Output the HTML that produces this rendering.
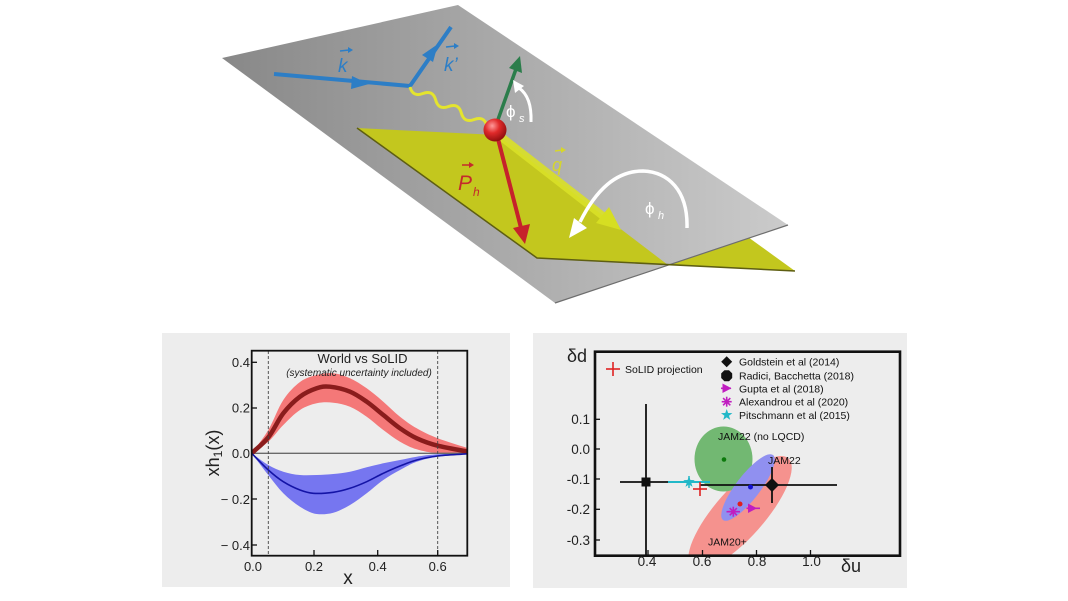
<!DOCTYPE html>
<html><head><meta charset="utf-8"><style>
html,body{margin:0;padding:0;background:#fff;}
svg{display:block;}
text{font-family:"Liberation Sans",Arial,sans-serif;}
</style></head><body>
<svg width="1068" height="601" viewBox="0 0 1068 601" xmlns="http://www.w3.org/2000/svg">
<defs>
<linearGradient id="gg" x1="222" y1="0" x2="788" y2="0" gradientUnits="userSpaceOnUse">
<stop offset="0" stop-color="#888888"/><stop offset="0.5" stop-color="#aaaaaa"/><stop offset="1" stop-color="#cbcbcb"/>
</linearGradient>
<radialGradient id="ball" cx="0.38" cy="0.32" r="0.7">
<stop offset="0" stop-color="#ff9a9a"/><stop offset="0.45" stop-color="#e02a2a"/><stop offset="1" stop-color="#8e0e0e"/>
</radialGradient>
<clipPath id="lc"><rect x="252" y="351" width="215.5" height="205"/></clipPath>
<clipPath id="rc"><rect x="595" y="352" width="305" height="204"/></clipPath>
</defs>

<!-- ===== 3D illustration ===== -->
<polygon points="357,128 615,141 795,271 537,258" fill="#c3c71e"/>
<polygon points="222,58 458,5 788,225 555,303" fill="url(#gg)"/>
<line x1="555" y1="303" x2="788" y2="225" stroke="#6e6e6e" stroke-width="1.2"/>
<polygon points="357,128 497,135 668,265 537,258" fill="#c3c71e"/>
<polyline points="357,128 537,258 795,271" fill="none" stroke="#5e5e12" stroke-width="1.5"/>

<!-- q band -->
<line x1="500" y1="136" x2="603" y2="216" stroke="#d9e027" stroke-width="8" stroke-opacity="0.9"/>
<polygon points="621,230 596,223 609,207" fill="#d6de22"/>

<!-- blue lepton lines -->
<polyline points="274,74 410,86 451,27" fill="none" stroke="#2d7ec6" stroke-width="4" stroke-linejoin="miter"/>
<polygon points="369,84 352,76 351,89" fill="#2d7ec6"/>
<polygon points="438,44 433,62 422,55" fill="#2d7ec6"/>

<!-- photon wave -->
<path d="M410,87 Q412.8,97.4 422.83,93.5 Q432.87,89.61 435.67,100 Q438.46,110.39 448.5,106.5 Q458.54,102.61 461.33,113 Q464.13,123.39 474.17,119.5 Q484.2,115.61 487,126" fill="none" stroke="#e4e42e" stroke-width="3"/>

<!-- green spin arrow -->
<line x1="495" y1="128" x2="516" y2="69" stroke="#2b7d4b" stroke-width="3.5"/>
<polygon points="520,56 522,73 509,68" fill="#2b7d4b"/>

<!-- red hadron arrow -->
<line x1="497" y1="135" x2="521" y2="228" stroke="#c6222b" stroke-width="4"/>
<polygon points="525,244 513,228 530,224" fill="#c6222b"/>

<!-- ball -->
<circle cx="495" cy="130" r="11.5" fill="url(#ball)"/>

<!-- phi_s arc -->
<path d="M531,122 Q532,97 519,88" fill="none" stroke="#fff" stroke-width="3"/>
<polygon points="513,80 524,86 515,93" fill="#fff"/>
<text x="506" y="117" font-size="17" fill="#fff" font-family="DejaVu Sans,Liberation Sans,sans-serif">ϕ</text>
<text x="519" y="122" font-size="11" fill="#fff" font-style="italic">s</text>

<!-- phi_h arc -->
<path d="M687,228 C688,190 668,172 643,171 C616,171 596,190 580,222" fill="none" stroke="#fff" stroke-width="3.5"/>
<polygon points="569,238 574,218 587,228" fill="#fff"/>
<text x="645" y="214" font-size="17" fill="#fff" font-family="DejaVu Sans,Liberation Sans,sans-serif">ϕ</text>
<text x="658" y="219" font-size="11" fill="#fff" font-style="italic">h</text>

<!-- labels -->
<text x="338" y="72" font-size="19" fill="#2d7ec6" font-style="italic">k</text>
<line x1="340" y1="51" x2="349" y2="50" stroke="#2d7ec6" stroke-width="1.5"/><polygon points="353,50 348,47 348,53" fill="#2d7ec6"/>
<text x="444" y="71" font-size="19" fill="#2d7ec6" font-style="italic">k’</text>
<line x1="446" y1="47" x2="455" y2="46" stroke="#2d7ec6" stroke-width="1.5"/><polygon points="459,46 454,43 454,49" fill="#2d7ec6"/>
<text x="458" y="190" font-size="21" fill="#c42a2c" font-style="italic">P</text>
<text x="473" y="196" font-size="12" fill="#c42a2c" font-style="italic">h</text>
<line x1="462" y1="165" x2="470" y2="165" stroke="#c42a2c" stroke-width="1.5"/><polygon points="474,165 469,162 469,168" fill="#c42a2c"/>
<text x="552" y="171" font-size="18" fill="#d6d62c" font-style="italic">q</text>
<line x1="555" y1="151" x2="562" y2="150" stroke="#d6d62c" stroke-width="1.5"/><polygon points="566,150 561,147 561,153" fill="#d6d62c"/>

<!-- ===== Left panel ===== -->
<rect x="162" y="333" width="348" height="254" fill="#ededed"/>
<g clip-path="url(#lc)">
<path fill="#f47878" d="M251.7,453.3 C257.2,445.5 263,438.9 268.3,430 S278,408 283.3,400 S294.4,386.2 300,382 S311.2,376.5 316.7,375 S327.8,372.8 333.3,373.3 S344.4,375.8 350,378.3 S361.2,384.4 366.7,388.3 S377.8,397 383.3,401.7 S394.4,412.3 400,416.7 S410.4,424.7 416.7,428.3 S429.1,435 437.7,438.3 S458.1,445 468.3,448.3 L468.3,453.3 C458.1,453.3 446.3,454 437.7,453.3 S423,451.2 416.7,449.3 S405.6,444.9 400,441.7 S388.9,434.2 383.3,430 S372.3,420.6 366.7,416.7 S355.6,409 350,406.7 S338.9,403.3 333.3,402.7 S322.3,402.1 316.7,403.3 S305.6,406.4 300,410 S288.6,419.7 283.3,425 S273.6,437 268.3,441.7 S257.2,449.4 251.7,453.3 Z"/>
<path fill="#7676f0" d="M251.7,453.3 C257.2,457.2 263,461.9 268.3,465 S278,470 283.3,471.7 S294.4,474.5 300,475 S311.2,475.2 316.7,475 S327.8,474.6 333.3,474 S344.4,472.8 350,471.7 S361.2,468.7 366.7,467.3 S377.8,464.5 383.3,463.3 S394.4,461.1 400,460 S410.4,457.7 416.7,456.7 S429.1,454.9 437.7,454.3 S458.1,453.6 468.3,453.3 L468.3,453.7 C458.1,454.7 446.3,455.4 437.7,456.7 S423,459.5 416.7,461.7 S405.6,467 400,470 S388.9,476.1 383.3,480 S372.3,489.1 366.7,493.3 S355.6,501.8 350,505 S338.9,511.2 333.3,512.7 S322.3,514.6 316.7,514 S305.6,510.2 300,506.7 S288.6,498.6 283.3,493.3 S273.6,481.7 268.3,475 S257.2,460.5 251.7,453.3 Z"/>
<line x1="252" y1="453.3" x2="468" y2="453.3" stroke="#6a6a6a" stroke-width="1.3"/>
<path fill="none" stroke="#8a1c1c" stroke-width="4.5" stroke-linecap="round" d="M251.7,453.3 C257.2,448 263,444 268.3,437.3 S278,420.1 283.3,413.3 S294.4,400.9 300,396.7 S311.7,390 316.7,388.3 S324.5,386.1 330,386.7 S343.9,389.2 350,391.7 S361.1,397.8 366.7,401.7 S377.8,410.6 383.3,415 S394.4,424.4 400,428.3 S410.4,435.4 416.7,438.3 S429.1,443.5 437.7,445.7 S458.1,449.7 468.3,451.7"/>
<path fill="none" stroke="#1414a6" stroke-width="1.6" d="M251.7,453.3 C257.2,458.9 263,465.3 268.3,470 S278,478.4 283.3,481.7 S295,488.1 300,490 S307.8,492.9 313.3,493.3 S327.2,493.1 333.3,492.3 S344.4,490.1 350,488.3 S361.2,484.2 366.7,481.7 S377.8,475.9 383.3,473.3 S394.4,468.2 400,466 S410.4,461.7 416.7,460 S429.1,457.1 437.7,456 S458.1,454.5 468.3,453.7"/>
</g>
<line x1="268.3" y1="351" x2="268.3" y2="556" stroke="#444" stroke-width="0.9" stroke-dasharray="3,2"/>
<line x1="437.7" y1="351" x2="437.7" y2="556" stroke="#444" stroke-width="0.9" stroke-dasharray="3,2"/>
<rect x="251.7" y="350.7" width="215.6" height="205" fill="none" stroke="#111" stroke-width="1.8"/>
<g stroke="#111" stroke-width="1.3">
<line x1="251.7" y1="362.3" x2="257" y2="362.3"/><line x1="251.7" y1="408" x2="257" y2="408"/>
<line x1="251.7" y1="499" x2="257" y2="499"/><line x1="251.7" y1="545" x2="257" y2="545"/>
<line x1="314" y1="555.7" x2="314" y2="550"/><line x1="377.7" y1="555.7" x2="377.7" y2="550"/><line x1="437.7" y1="555.7" x2="437.7" y2="550"/>
</g>
<g font-size="13" fill="#222" text-anchor="end">
<text x="250" y="367">0.4</text><text x="250" y="412.5">0.2</text><text x="250" y="458">0.0</text>
<text x="250" y="504">− 0.2</text><text x="250" y="550">− 0.4</text>
</g>
<g font-size="13" fill="#222" text-anchor="middle">
<text x="253" y="571">0.0</text><text x="314" y="571">0.2</text><text x="377.7" y="571">0.4</text><text x="437.7" y="571">0.6</text>
</g>
<text x="348" y="584" font-size="19" fill="#222" text-anchor="middle">x</text>
<text transform="translate(219,453) rotate(-90)" font-size="18" fill="#222" text-anchor="middle">xh<tspan font-size="12" dy="3">1</tspan><tspan dy="-3">(x)</tspan></text>
<text x="362.5" y="363" font-size="13" fill="#222" text-anchor="middle">World vs SoLID</text>
<text x="359" y="376" font-size="10" fill="#222" font-style="italic" text-anchor="middle">(systematic uncertainty included)</text>

<!-- ===== Right panel ===== -->
<rect x="533" y="333" width="374" height="255" fill="#ededed"/>
<g clip-path="url(#rc)">
<ellipse cx="740" cy="513" rx="73" ry="24.5" transform="rotate(-48.5 740 513)" fill="#f5928e"/>
<ellipse cx="723.5" cy="459" rx="29" ry="32.5" fill="#72b872"/>
<ellipse cx="748" cy="487.5" rx="41" ry="12" transform="rotate(-52.4 748 487.5)" fill="#9090f0"/>
<!-- Radici -->
<line x1="646" y1="404" x2="646" y2="556" stroke="#111" stroke-width="1.8"/>
<line x1="620" y1="482" x2="700" y2="482" stroke="#111" stroke-width="1.8"/>
<!-- Goldstein -->
<line x1="700" y1="485" x2="837" y2="485" stroke="#111" stroke-width="1.8"/>
<line x1="772" y1="467" x2="772" y2="503" stroke="#111" stroke-width="1.8"/>
</g>
<rect x="641.5" y="477.5" width="9" height="9" fill="#111"/>
<polygon points="772,478 779,485 772,492 765,485" fill="#111"/>
<!-- Pitschmann -->
<line x1="668" y1="482" x2="710" y2="482" stroke="#22b8c8" stroke-width="2"/>
<line x1="689" y1="476" x2="689" y2="488" stroke="#22b8c8" stroke-width="1.5"/>
<polygon transform="translate(689,482)" fill="#22b8c8" points="0,-6 1.41,-1.94 5.71,-1.85 2.28,0.74 3.53,4.85 0,2.4 -3.53,4.85 -2.28,0.74 -5.71,-1.85 -1.41,-1.94"/>
<!-- SoLID cross -->
<g stroke="#e02222" stroke-width="1.6"><line x1="693" y1="489" x2="707" y2="489"/><line x1="700" y1="482" x2="700" y2="496"/></g>
<!-- dots -->
<circle cx="740" cy="504" r="2.5" fill="#e01e1e"/>
<circle cx="750.5" cy="487" r="2.5" fill="#1414d0"/>
<circle cx="724" cy="459.5" r="2.3" fill="#0c7a0c"/>
<!-- Gupta -->
<line x1="746.5" y1="508.3" x2="760" y2="508.3" stroke="#c01ec0" stroke-width="1.6"/>
<polygon points="748,503.5 757,508.3 748,513" fill="#c01ec0"/>
<!-- Alexandrou -->
<line x1="726.5" y1="511.7" x2="740" y2="511.7" stroke="#c01ec0" stroke-width="1.6"/>
<g stroke="#c01ec0" stroke-width="1.6" transform="translate(733.3,511.7)">
<line x1="-5" y1="0" x2="5" y2="0"/><line x1="0" y1="-5" x2="0" y2="5"/><line x1="-3.6" y1="-3.6" x2="3.6" y2="3.6"/><line x1="-3.6" y1="3.6" x2="3.6" y2="-3.6"/>
</g>

<text x="718" y="440" font-size="10.5" fill="#111">JAM22 (no LQCD)</text>
<text x="768" y="464" font-size="10.5" fill="#111">JAM22</text>
<text x="708" y="545.5" font-size="10.5" fill="#111">JAM20+</text>

<rect x="595" y="351.7" width="305" height="204" fill="none" stroke="#111" stroke-width="2.6"/>
<g stroke="#111" stroke-width="1.3">
<line x1="595" y1="419.3" x2="600" y2="419.3"/><line x1="595" y1="449" x2="600" y2="449"/><line x1="595" y1="479" x2="600" y2="479"/>
<line x1="595" y1="509.3" x2="600" y2="509.3"/><line x1="595" y1="540" x2="600" y2="540"/>
<line x1="648" y1="555.7" x2="648" y2="550"/><line x1="702.5" y1="555.7" x2="702.5" y2="550"/><line x1="756.5" y1="555.7" x2="756.5" y2="550"/><line x1="810.5" y1="555.7" x2="810.5" y2="550"/>
</g>
<g font-size="13.5" fill="#222" text-anchor="end">
<text x="590" y="424">0.1</text><text x="590" y="454">0.0</text><text x="590" y="484">-0.1</text>
<text x="590" y="514">-0.2</text><text x="590" y="545">-0.3</text>
</g>
<g font-size="13.5" fill="#222" text-anchor="middle">
<text x="647" y="566">0.4</text><text x="702" y="566">0.6</text><text x="757" y="566">0.8</text><text x="811.5" y="566">1.0</text>
</g>
<text x="567" y="362" font-size="18" fill="#222" font-family="Liberation Serif,serif">δd</text>
<text x="841" y="572" font-size="18" fill="#222" font-family="Liberation Serif,serif">δu</text>

<!-- legend -->
<g stroke="#e02222" stroke-width="1.6"><line x1="606" y1="369" x2="620" y2="369"/><line x1="613" y1="362" x2="613" y2="376"/></g>
<text x="625" y="373" font-size="10.5" fill="#111">SoLID projection</text>
<polygon points="726.7,356.2 732.2,361.7 726.7,367.2 721.2,361.7" fill="#111"/>
<polygon transform="translate(726.7,375.7)" fill="#111" points="-2.3,-5.5 2.3,-5.5 5.5,-2.3 5.5,2.3 2.3,5.5 -2.3,5.5 -5.5,2.3 -5.5,-2.3"/>
<line x1="721" y1="388.3" x2="731" y2="388.3" stroke="#c01ec0" stroke-width="1.6"/>
<polygon points="722.5,383.5 731.5,388.3 722.5,393" fill="#c01ec0"/>
<g stroke="#c01ec0" stroke-width="1.6" transform="translate(726.7,401.7)">
<line x1="-5" y1="0" x2="5" y2="0"/><line x1="0" y1="-5" x2="0" y2="5"/><line x1="-3.6" y1="-3.6" x2="3.6" y2="3.6"/><line x1="-3.6" y1="3.6" x2="3.6" y2="-3.6"/>
</g>
<polygon transform="translate(726.7,415)" fill="#22b8c8" points="0,-6 1.41,-1.94 5.71,-1.85 2.28,0.74 3.53,4.85 0,2.4 -3.53,4.85 -2.28,0.74 -5.71,-1.85 -1.41,-1.94"/>
<g font-size="10.5" fill="#111">
<text x="739" y="365.5">Goldstein et al (2014)</text>
<text x="739" y="379.5">Radici, Bacchetta (2018)</text>
<text x="739" y="392.3">Gupta et al (2018)</text>
<text x="739" y="405.7">Alexandrou et al (2020)</text>
<text x="739" y="419">Pitschmann et al (2015)</text>
</g>
</svg>
</body></html>
